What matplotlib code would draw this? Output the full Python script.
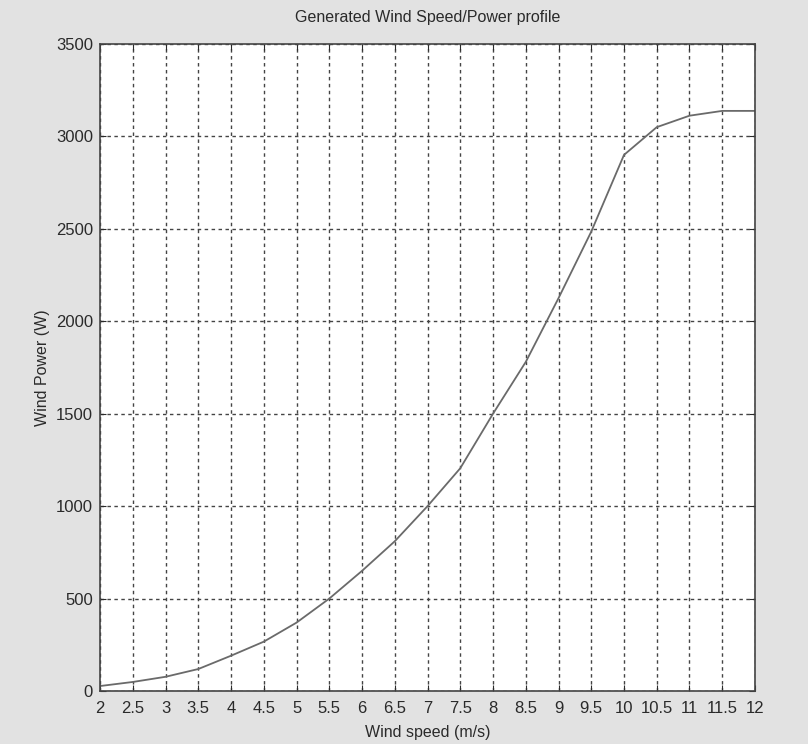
import matplotlib
matplotlib.use("Agg")
import matplotlib.pyplot as plt

# Datos
wind_speed = [2, 2.5, 3, 3.5, 4, 4.5, 5, 5.5, 6, 6.5, 7, 7.5, 8,
              8.5, 9, 9.5, 10, 10.5, 11, 11.5, 12]
wind_power = [27, 49, 77, 119, 191, 267, 370, 500, 650, 810, 1000, 1205, 1500,
              1780, 2125, 2485, 2900, 3050, 3112, 3138, 3138]
x_ticks = [2, 2.5, 3, 3.5, 4, 4.5, 5, 5.5, 6, 6.5, 7, 7.5, 8,
           8.5, 9, 9.5, 10, 10.5, 11, 11.5, 12]
y_ticks = [0, 500, 1000, 1500, 2000, 2500, 3000, 3500]

plt.rcParams['font.family'] = ['Liberation Sans', 'DejaVu Sans']

fig = plt.figure(figsize=(8.08, 7.44), dpi=100, facecolor='#e2e2e2')
ax = fig.add_axes([0.1238, 0.0712, 0.8106, 0.8697])
ax.set_facecolor('white')

ax.plot(wind_speed, wind_power, color='#6a6a6a', linewidth=1.3)

ax.set_xlim(2, 12)
ax.set_ylim(0, 3500)
ax.set_xticks(x_ticks)
ax.set_xticklabels([f"{v:g}" for v in x_ticks])
ax.set_yticks(y_ticks)
ax.tick_params(direction='in', top=True, right=True, labelsize=12,
               colors='#2a2a2a', length=4)
ax.tick_params(axis='x', pad=7)
ax.tick_params(axis='y', pad=5)
ax.grid(True, linestyle=(0, (2.5, 2.5)), color='#444444', linewidth=1.0)
for s in ax.spines.values():
    s.set_color('#444444')
    s.set_linewidth(1.2)

ax.set_title("Generated Wind Speed/Power profile", fontsize=11.5, color='#2a2a2a', pad=16)
ax.set_xlabel("Wind speed (m/s)", fontsize=11.5, color='#2a2a2a', labelpad=7)
ax.set_ylabel("Wind Power (W)", fontsize=11.5, color='#2a2a2a', labelpad=4)

fig.savefig("out.png", dpi=100, facecolor=fig.get_facecolor())
